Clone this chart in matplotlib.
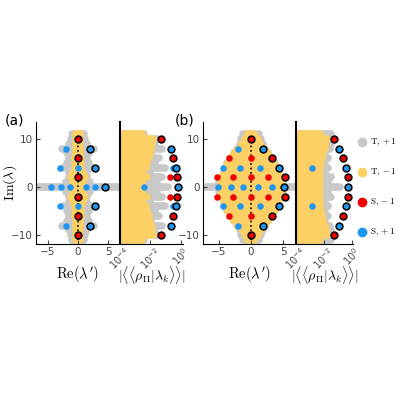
import matplotlib
matplotlib.use("Agg")
import matplotlib.pyplot as plt
import numpy as np

plt.rcParams["mathtext.fontset"] = "cm"

GRAY, YELLOW, RED, BLUE = "#c8c8c8", "#fdd066", "#f00000", "#1e96f0"

# ── data ─────────────────────────────────────────────────────────────────────
rows = np.arange(-11, 12)   # Im(lambda) rows of the dense clouds
absrow = np.abs(rows)

# half-widths in Re(lambda') of the dense clouds, indexed by |row|
a_gray_w = [7, 2, 1.5, 1.5, 2.5, 1.8, 1.5, 1.8, 2.6, 1.5, 1.2, 1.0]
a_yel_w  = [0.6, 0.9, 1.1, 0.8, 0.5, 0.5, 0.5, 0.4, 0.4, 0.4, 0.4, 0.3]
b_gray_w = [7, 5, 4.5, 4.3, 4, 3.8, 3.3, 2.6, 2.2, 1.8, 1.5, 1.2]
b_yel_w  = [4.8, 4.7, 4.6, 4.2, 4, 3.6, 3.3, 2.6, 2.0, 1.4, 1.0, 0.5]

# max overlap of the dense clouds, indexed by |row|
a_gray_ov = [0.15, 0.03, 0.06, 0.01, 0.1, 0.02, 0.04, 0.012, 0.06, 0.02, 0.03, 0.004]
a_yel_ov  = [0.004, 0.003, 0.006, 0.003, 0.005, 0.006, 0.008, 0.01, 0.012, 0.014, 0.016, 0.003]
b_gray_ov = [0.15, 0.02, 0.03, 0.012, 0.02, 0.012, 0.02, 0.012, 0.025, 0.03, 0.05, 0.03]
b_yel_ov  = [0.005, 0.005, 0.005, 0.005, 0.005, 0.006, 0.007, 0.009, 0.011, 0.013, 0.017, 0.005]

# (a) sparse spectrum: (Re, Im, edge)
a_red_x = [0, 0, 0, 0, 0, 0]
a_red_y = [10, 6, 2, -2, -6, -10]
a_red_e = [1, 1, 1, 1, 1, 1]
a_blue_x = [-2, -3, 0, -4.5, -2.8, -1.3, 1.3, 2.8, -3, 0, -2, 2, 2.8, 4.5, 2.8, 2]
a_blue_y = [8, 4, 4, 0, 0, 0, 0, 0, -4, -4, -8, 8, 4, 0, -4, -8]
a_blue_e = [0, 0, 0, 0, 0, 0, 0, 0, 0, 0, 0, 1, 1, 1, 1, 1]
a_red_ov  = [0.05, 0.3, 0.6, 0.6, 0.3, 0.05, 0.2, 0.2]
a_red_oy  = [10, 6, 2, -2, -6, -10, 2, -2]
a_red_oe  = [1, 1, 1, 1, 1, 1, 0, 0]
a_blue_ov = [0.25, 0.5, 0.7, 0.5, 0.25, 0.3, 0.3, 0.004]
a_blue_oy = [8, 4, 0, -4, -8, 4, -4, 0]
a_blue_oe = [1, 1, 1, 1, 1, 0, 0, 0]

# (b) sparse spectrum
b_red_x = [0, -3.4, 0, 3.2, -5.3, -2.8, 0, 2.7, 5.3, -5.3, -2.8, 0, 2.7, 5.3, -3.4, 0, 3.2, 0]
b_red_y = [10, 6, 6, 6, 2, 2, 2, 2, 2, -2, -2, -2, -2, -2, -6, -6, -6, -10]
b_red_e = [1, 0, 0, 1, 0, 0, 0, 0, 1, 0, 0, 0, 0, 1, 0, 0, 1, 1]
b_blue_x = [-2, 1.9, -4.4, -1.7, 1.4, 4.4, -5.1, -3.2, -1.2, 1.1, 3.2, 5.2, -4.4, -1.7, 1.4, 4.4, -2, 1.9]
b_blue_y = [8, 8, 4, 4, 4, 4, 0, 0, 0, 0, 0, 0, -4, -4, -4, -4, -8, -8]
b_blue_e = [0, 1, 0, 0, 0, 1, 0, 0, 0, 0, 0, 1, 0, 0, 0, 1, 0, 1]
b_red_ov  = [0.05, 0.25, 0.5, 0.5, 0.25, 0.05]
b_red_oy  = [10, 6, 2, -2, -6, -10]
b_red_oe  = [1, 1, 1, 1, 1, 1]
b_blue_ov = [0.12, 0.4, 0.55, 0.4, 0.12, 0.0015, 0.0015]
b_blue_oy = [8, 4, 0, -4, -8, 4, -4]
b_blue_oe = [1, 1, 1, 1, 1, 0, 0]

legend_labels = [r"$\mathrm{T},+1$", r"$\mathrm{T},-1$", r"$\mathrm{S},-1$", r"$\mathrm{S},+1$"]


def cloud(ax, w, color, log=False):
    w = np.asarray(w)[absrow]
    for y, v in zip(rows, w):
        xs = [1e-5, v] if log else [-v, v]
        ax.plot(xs, [y, y], color=color, lw=5.5, solid_capstyle="round", zorder=1)


def dots(ax, x, y, e, color):
    x, y, e = map(np.asarray, (x, y, e))
    on = e.astype(bool)
    ax.scatter(x[~on], y[~on], s=22, color=color, lw=0, zorder=3)
    ax.scatter(x[on], y[on], s=24, color=color, edgecolor="k", lw=1.1, zorder=3)


def style_common(ax):
    ax.set_ylim(-11.8, 13.5)
    for s in ("top", "right"):
        ax.spines[s].set_visible(False)
    ax.xaxis.set_label_coords(0.5, -0.25)
    ax.xaxis.label.set_va("center")


def style_left(ax, xlim):
    ax.set_xlim(*xlim)
    ax.set_xticks([-5, 0, 5])
    ax.set_yticks([-10, 0, 10])
    ax.plot([0, 0], [-11, 11], ls=":", color="k", lw=1.2, zorder=2)
    ax.tick_params(direction="in", labelsize=7.5, colors="#444444", length=3, pad=2)
    ax.set_xlabel(r"$\mathrm{Re}(\lambda')$", fontsize=10.5)
    style_common(ax)


def style_right(ax, xmax):
    ax.set_xscale("log")
    ax.set_xlim(1e-4, xmax)
    ax.set_yticks([])
    ax.set_xticks([1e-4, 1e-2, 1e0])
    ax.spines["left"].set_linewidth(1.5)
    ax.tick_params(direction="in", labelsize=7, colors="#444444", length=3,
                   labelrotation=45, pad=1)
    ax.tick_params(which="minor", direction="in", length=1.5)
    ax.set_xlabel(r"$|\langle\langle\rho_{\Pi}|\lambda_k\rangle\rangle|$", fontsize=10)
    ax.patch.set_alpha(0)
    style_common(ax)


fig = plt.figure(figsize=(4, 4), dpi=100)

ax1 = fig.add_axes([0.09, 0.39, 0.21, 0.305])
cloud(ax1, a_gray_w, GRAY); cloud(ax1, a_yel_w, YELLOW)
dots(ax1, a_blue_x, a_blue_y, a_blue_e, BLUE); dots(ax1, a_red_x, a_red_y, a_red_e, RED)
style_left(ax1, (-7, 7))
ax1.set_ylabel(r"$\mathrm{Im}(\lambda)$", fontsize=10)
ax1.yaxis.set_label_coords(-0.2, 0.5)

ax2 = fig.add_axes([0.30, 0.39, 0.158, 0.305])
cloud(ax2, a_gray_ov, GRAY, log=True); cloud(ax2, a_yel_ov, YELLOW, log=True)
dots(ax2, a_blue_ov, a_blue_oy, a_blue_oe, BLUE); dots(ax2, a_red_ov, a_red_oy, a_red_oe, RED)
style_right(ax2, 1.5)

ax3 = fig.add_axes([0.5075, 0.39, 0.2325, 0.305])
cloud(ax3, b_gray_w, GRAY); cloud(ax3, b_yel_w, YELLOW)
dots(ax3, b_blue_x, b_blue_y, b_blue_e, BLUE); dots(ax3, b_red_x, b_red_y, b_red_e, RED)
style_left(ax3, (-7.5, 7))

ax4 = fig.add_axes([0.74, 0.39, 0.1425, 0.305])
cloud(ax4, b_gray_ov, GRAY, log=True); cloud(ax4, b_yel_ov, YELLOW, log=True)
dots(ax4, b_blue_ov, b_blue_oy, b_blue_oe, BLUE); dots(ax4, b_red_ov, b_red_oy, b_red_oe, RED)
style_right(ax4, 1.2)

fig.text(0.012, 0.69, "(a)", fontsize=10)
fig.text(0.438, 0.69, "(b)", fontsize=10)

for i, (lab, col) in enumerate(zip(legend_labels, [GRAY, YELLOW, RED, BLUE])):
    yy = 0.645 - i * 0.075
    fig.add_artist(plt.Line2D([0.905], [yy], marker="o", ms=6, color=col, lw=0,
                              transform=fig.transFigure))
    fig.text(0.925, yy, lab, fontsize=6.5, va="center")

fig.savefig("out.png", dpi=100)
